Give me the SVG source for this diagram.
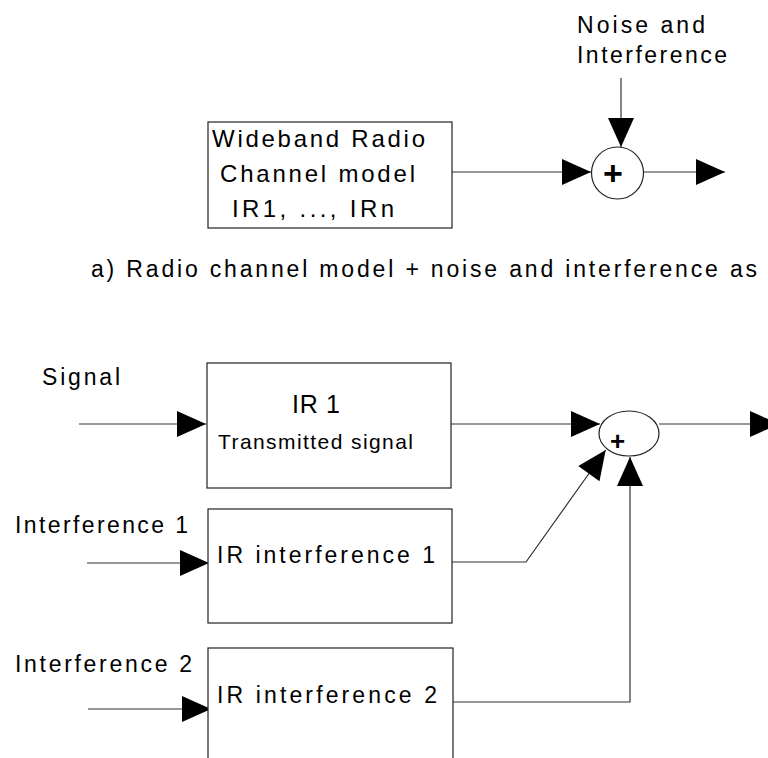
<svg xmlns="http://www.w3.org/2000/svg" width="768" height="758" viewBox="0 0 768 758">
<style>
  .box { fill: #fff; stroke: #222; stroke-width: 1.2; }
  .ln { fill: none; stroke: #333; stroke-width: 1.2; }
  .sum { fill: #fff; stroke: #222; stroke-width: 1.2; }
  text { font-family: "Liberation Sans", Arial, sans-serif; fill: #000; }
  .lbl { font-size: 23px; }
  .big { font-size: 24px; }
  .sm { font-size: 21px; }
  .cap { font-size: 23px; }
  .plus { font-weight: bold; text-anchor: middle; }
</style>
<defs>
  <marker id="ah" markerUnits="userSpaceOnUse" markerWidth="30" markerHeight="27" refX="29" refY="13" orient="auto" overflow="visible">
    <path d="M0,0 L29,13 L0,26 Z" fill="#000"/>
  </marker>
</defs>

<g id="connectors">
  <line class="ln" x1="621" y1="78" x2="621" y2="147" marker-end="url(#ah)"/>
  <line class="ln" x1="452" y1="172" x2="591" y2="172" marker-end="url(#ah)"/>
  <line class="ln" x1="643" y1="172" x2="725" y2="172" marker-end="url(#ah)"/>
  <line class="ln" x1="79" y1="424" x2="206" y2="424" marker-end="url(#ah)"/>
  <line class="ln" x1="451" y1="424" x2="600" y2="424" marker-end="url(#ah)"/>
  <line class="ln" x1="659" y1="424" x2="779" y2="424" marker-end="url(#ah)"/>
  <line class="ln" x1="87" y1="563" x2="209" y2="563" marker-end="url(#ah)"/>
  <line class="ln" x1="88" y1="709" x2="211" y2="709" marker-end="url(#ah)"/>
  <polyline class="ln" points="452,562 526,562 605.7,450" marker-end="url(#ah)"/>
  <polyline class="ln" points="453,702 630,702 630,457" marker-end="url(#ah)"/>
</g>

<g id="noise-label">
  <text class="lbl" x="577" y="33" textLength="128" lengthAdjust="spacing">Noise and</text>
  <text class="lbl" x="577" y="63" textLength="150" lengthAdjust="spacing">Interference</text>
</g>

<g id="channel-model">
  <rect class="box" x="208" y="122" width="244" height="106"/>
  <text class="big" x="212" y="147" textLength="213" lengthAdjust="spacing">Wideband Radio</text>
  <text class="big" x="220" y="182" textLength="195" lengthAdjust="spacing">Channel model</text>
  <text class="big" x="232" y="217" textLength="162" lengthAdjust="spacing">IR1, ..., IRn</text>
</g>

<g id="sum-top">
  <circle class="sum" cx="617.5" cy="173" r="26"/>
  <text class="plus" x="613" y="185" font-size="34">+</text>
</g>

<g id="caption">
  <text class="cap" x="91" y="277" textLength="666" lengthAdjust="spacing">a)  Radio channel model + noise and interference as</text>
</g>

<g id="signal-label">
  <text class="lbl" x="42" y="385" textLength="78" lengthAdjust="spacing">Signal</text>
</g>

<g id="ir1">
  <rect class="box" x="207" y="363" width="244" height="125"/>
  <text x="292" y="413" font-size="25" textLength="48" lengthAdjust="spacing">IR 1</text>
  <text class="sm" x="218" y="449" textLength="195" lengthAdjust="spacing">Transmitted signal</text>
</g>

<g id="sum-bottom">
  <ellipse class="sum" cx="629" cy="433.5" rx="30" ry="22.5"/>
  <text class="plus" x="617.5" y="450" font-size="26">+</text>
</g>

<g id="interference1-label">
  <text class="lbl" x="15" y="533" textLength="173" lengthAdjust="spacing">Interference 1</text>
</g>

<g id="ir-interference1">
  <rect class="box" x="208" y="509" width="244" height="114"/>
  <text class="lbl" x="217" y="563" textLength="218" lengthAdjust="spacing">IR interference 1</text>
</g>

<g id="interference2-label">
  <text class="lbl" x="15" y="672" textLength="177" lengthAdjust="spacing">Interference 2</text>
</g>

<g id="ir-interference2">
  <rect class="box" x="208" y="648" width="245" height="130"/>
  <text class="lbl" x="217" y="703" textLength="220" lengthAdjust="spacing">IR interference 2</text>
</g>
</svg>
